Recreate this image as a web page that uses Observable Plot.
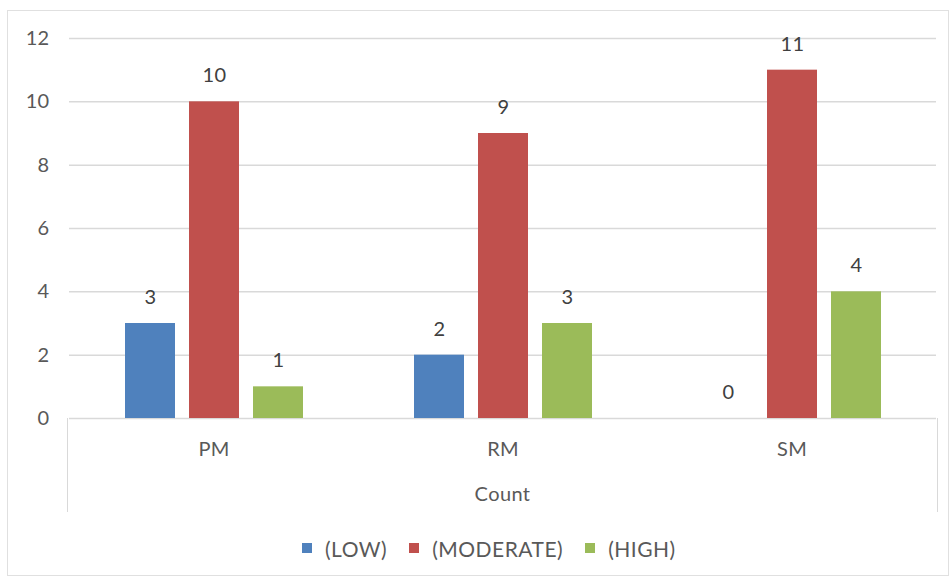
<!DOCTYPE html>
<html>
<head>
<meta charset="utf-8">
<script src="https://cdn.jsdelivr.net/npm/d3@7"></script>
<script src="https://cdn.jsdelivr.net/npm/@observablehq/plot@0.6"></script>
<style>
  html, body { margin: 0; padding: 0; background: #fff; }
  #wrap { position: relative; width: 952px; height: 579px; overflow: hidden; font-family: Lato, "Open Sans", sans-serif; }
  #border { position: absolute; left: 7px; top: 10px; width: 942px; height: 566px; border: 1.5px solid #e0e0e0; box-sizing: border-box; pointer-events: none; }
  #table { position: absolute; border-left: 1.5px solid #d9d9d9; border-right: 1.5px solid #d9d9d9; box-sizing: border-box; pointer-events: none; }
  #legend { position: absolute; left: 0; top: 525px; width: 952px; height: 46px; display: flex; align-items: center; padding-left: 302px; box-sizing: border-box; font-size: 21px; letter-spacing: 0.5px; color: #595959; }
  .item { display: flex; align-items: center; margin-right: 22px; }
  .swatch { width: 10px; height: 10px; margin-right: 13px; }
  svg text { letter-spacing: 0.3px; }
</style>
</head>
<body>
<div id="wrap">
  <div id="chart"></div>
  <div id="table"></div>
  <div id="legend"></div>
  <div id="border"></div>
</div>
<script>
// Categories, series and values
const categories = ["PM", "RM", "SM"];
const series = ["(LOW)", "(MODERATE)", "(HIGH)"];
const low = [3, 2, 0];
const moderate = [10, 9, 11];
const high = [1, 3, 4];
const colors = ["#4f81bd", "#c0504d", "#9bbb59"];
const yTicks = [0, 2, 4, 6, 8, 10, 12];
const axisTitle = "Count";

const values = [low, moderate, high];
const rows = [];
categories.forEach((c, i) => {
  series.forEach((s, j) => rows.push({category: c, series: s, value: values[j][i]}));
});

const chart = Plot.plot({
  width: 952,
  height: 525,
  marginLeft: 68,
  marginRight: 15,
  marginTop: 38,
  marginBottom: 107,
  style: {fontFamily: "Lato, 'Open Sans', sans-serif", fontSize: "20px", color: "#595959", background: "transparent"},
  fx: {domain: categories, padding: 0, label: null},
  x: {domain: series, paddingInner: 0.22, paddingOuter: 0.866, axis: null},
  y: {domain: [0, 12], ticks: yTicks, label: null},
  color: {domain: series, range: colors},
  marks: [
    Plot.gridY(yTicks, {stroke: "#d9d9d9", strokeOpacity: 1, strokeWidth: 1.5}),
    Plot.axisY(yTicks, {tickSize: 0, tickPadding: 20, label: null, fill: "#595959"}),
    Plot.axisFx({anchor: "bottom", tickSize: 0, tickPadding: 23, label: null, fill: "#595959"}),
    Plot.barY(rows, {fx: "category", x: "series", y: "value", fill: "series"}),
    Plot.text(rows, {fx: "category", x: "series", y: "value", text: d => String(d.value), dy: -26, fill: "#404040", fontSize: 20})
  ]
});
document.getElementById("chart").appendChild(chart);

// Category table box below the axis, placed from the plot's own scales
const fx = chart.scale("fx");
const yS = chart.scale("y");
const left = fx.range[0], right = fx.range[1];
const top0 = yS.apply(0);
const table = document.getElementById("table");
table.style.left = (left - 0.75) + "px";
table.style.width = (right - left + 1.5) + "px";
table.style.top = top0 + "px";
table.style.height = "94px";

// Outer axis title inside the table box
const title = document.createElement("div");
title.textContent = axisTitle;
Object.assign(title.style, {position: "absolute", left: 0, right: 0, top: "63px", textAlign: "center", fontSize: "20px", letterSpacing: "0.4px", color: "#595959"});
table.appendChild(title);

// Legend
const legend = document.getElementById("legend");
series.forEach((s, i) => {
  const item = document.createElement("div");
  item.className = "item";
  const sw = document.createElement("span");
  sw.className = "swatch";
  sw.style.background = colors[i];
  const label = document.createElement("span");
  label.textContent = s;
  item.appendChild(sw);
  item.appendChild(label);
  legend.appendChild(item);
});
</script>
</body>
</html>
